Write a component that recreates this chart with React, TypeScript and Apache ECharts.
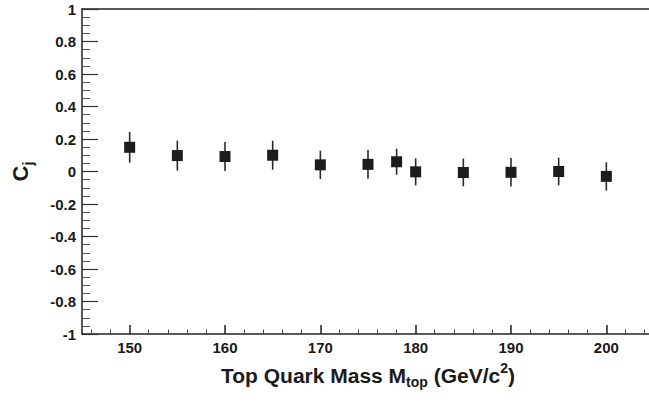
import React, { useEffect, useRef } from "react";
import * as echarts from "echarts";

const masses = [150, 155, 160, 165, 170, 175, 178, 180, 185, 190, 195, 200];
const cj = [0.149, 0.098, 0.092, 0.1, 0.041, 0.044, 0.06, -0.002, -0.006, -0.005, 0.0, -0.03];
const errs = [0.095, 0.092, 0.089, 0.089, 0.087, 0.088, 0.08, 0.083, 0.085, 0.088, 0.085, 0.087];
const xMajorTicks = [150, 160, 170, 180, 190, 200];
const xMinorTicks = [146, 148, 152, 154, 156, 158, 162, 164, 166, 168, 172, 174, 176, 178, 182, 184, 186, 188, 192, 194, 196, 198, 202, 204];

const FONT = "'Liberation Sans', Arial, Helvetica, sans-serif";

export default function App() {
  const ref = useRef<HTMLDivElement>(null);
  useEffect(() => {
    if (!ref.current) return;
    const chart = echarts.init(ref.current, undefined, { renderer: "svg" });
    const data = masses.map((m, i) => [m, cj[i], errs[i]]);
    chart.setOption({
      animation: false,
      backgroundColor: "#ffffff",
      grid: { left: 82, top: 9, width: 572, height: 325, containLabel: false, outerBoundsMode: "none" },
      xAxis: [
        {
          type: "value",
          min: 145,
          max: 205,
          position: "bottom",
          axisLine: { show: true, onZero: false, lineStyle: { color: "#222", width: 1.5 } },
          axisTick: { show: true, inside: true, length: 9, customValues: xMajorTicks, lineStyle: { color: "#222", width: 1.5 } },
          axisLabel: {
            customValues: xMajorTicks,
            margin: 6,
            color: "#1a1a1a",
            fontFamily: FONT,
            fontWeight: "bold",
            fontSize: 15,
          },
          splitLine: { show: false },
          name: "{a|Top Quark Mass M}{sub|top}{a| (GeV/c}{sup|2}{a|)}",
          nameLocation: "middle",
          nameGap: 27,
          nameTextStyle: {
            rich: {
              a: { fontFamily: FONT, fontWeight: "bold", fontSize: 21, color: "#1a1a1a", lineHeight: 28 },
              sub: { fontFamily: FONT, fontWeight: "bold", fontSize: 14, color: "#1a1a1a", lineHeight: 10, verticalAlign: "bottom" },
              sup: { fontFamily: FONT, fontWeight: "bold", fontSize: 14, color: "#1a1a1a", lineHeight: 10, verticalAlign: "top" },
            },
          },
        },
        {
          type: "value",
          min: 145,
          max: 205,
          position: "bottom",
          axisLine: { show: false, onZero: false },
          axisTick: { show: true, inside: true, length: 4.5, customValues: xMinorTicks, lineStyle: { color: "#444", width: 1 } },
          axisLabel: { show: false },
          splitLine: { show: false },
        },
        {
          type: "value",
          min: 145,
          max: 205,
          position: "top",
          axisLine: { show: true, onZero: false, lineStyle: { color: "#222", width: 1.5 } },
          axisTick: { show: false },
          axisLabel: { show: false },
          splitLine: { show: false },
        },
      ],
      yAxis: {
        type: "value",
        min: -1,
        max: 1,
        interval: 0.2,
        axisLine: { show: true, onZero: false, lineStyle: { color: "#222", width: 1.5 } },
        axisTick: { show: true, inside: true, length: 16, lineStyle: { color: "#333", width: 1.2 } },
        minorTick: { show: true, splitNumber: 4, length: 8, lineStyle: { color: "#555", width: 1 } },
        axisLabel: {
          margin: 6,
          color: "#1a1a1a",
          fontFamily: FONT,
          fontWeight: "bold",
          fontSize: 15,
        },
        splitLine: { show: false },
        name: "{a|C}{b|j}",
        nameLocation: "middle",
        nameGap: 47,
        nameRotate: 90,
        nameTextStyle: {
          rich: {
            a: { fontFamily: FONT, fontWeight: "bold", fontSize: 22, color: "#1a1a1a", lineHeight: 30 },
            b: { fontFamily: FONT, fontWeight: "bold", fontSize: 14, color: "#1a1a1a", lineHeight: 12, verticalAlign: "bottom" },
          },
        },
      },
      series: [
        {
          type: "custom",
          xAxisIndex: 0,
          yAxisIndex: 0,
          data,
          renderItem: (params: any, api: any) => {
            const x = api.value(0);
            const y = api.value(1);
            const e = api.value(2);
            const top = api.coord([x, y + e]);
            const bot = api.coord([x, y - e]);
            const c = api.coord([x, y]);
            return {
              type: "group",
              children: [
                {
                  type: "line",
                  shape: { x1: top[0], y1: top[1], x2: bot[0], y2: bot[1] },
                  style: { stroke: "#2a2a2a", lineWidth: 1.6 },
                },
                {
                  type: "rect",
                  shape: { x: c[0] - 5.5, y: c[1] - 5.5, width: 11, height: 11 },
                  style: { fill: "#1c1c1c" },
                },
              ],
            };
          },
        },
      ],
    });
    return () => chart.dispose();
  }, []);
  return (
    <div
      ref={ref}
      style={{ position: "fixed", left: 0, top: 0, width: 649, height: 402, background: "#fff" }}
    />
  );
}
